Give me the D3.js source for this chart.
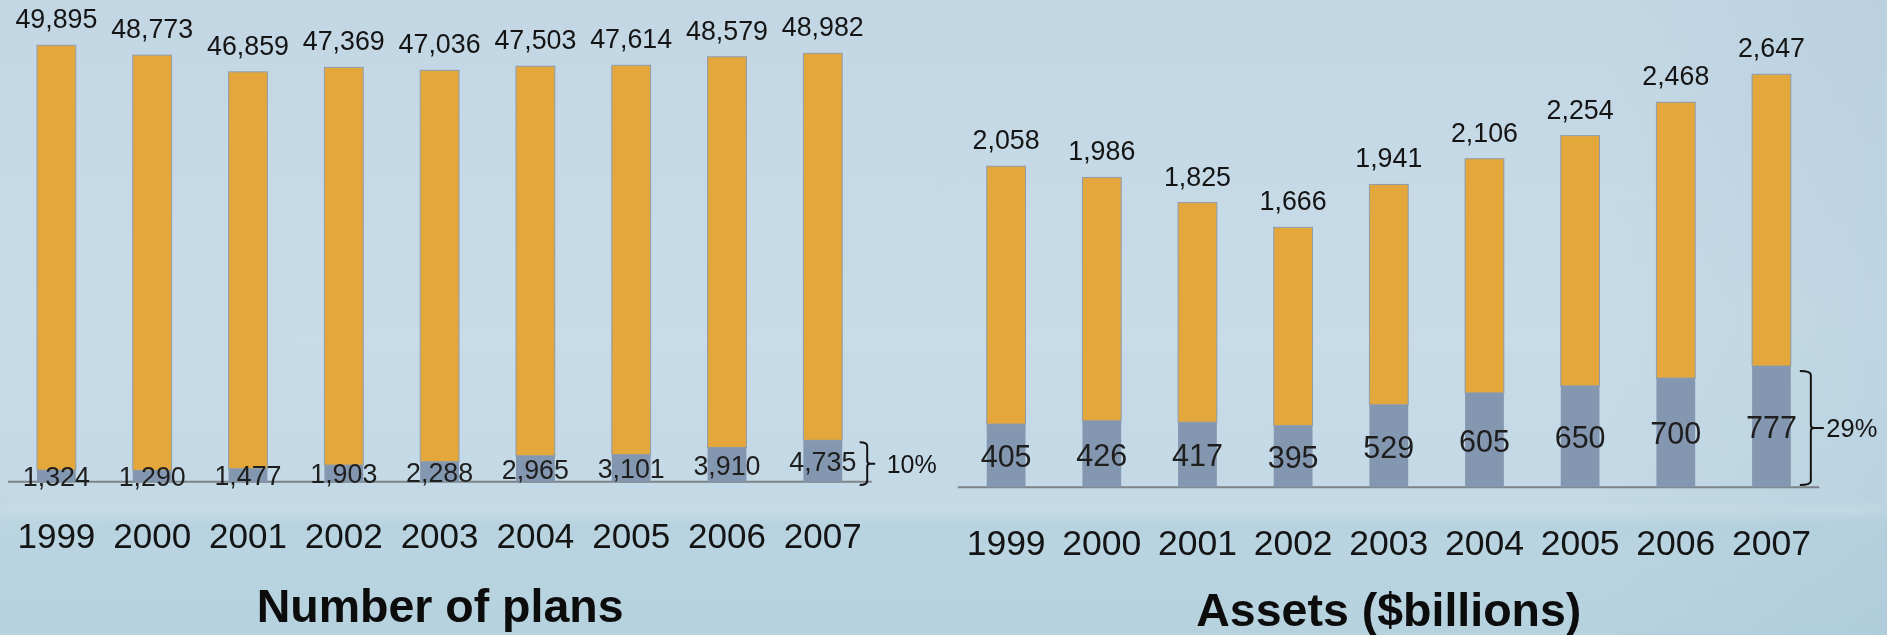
<!DOCTYPE html>
<html>
<head>
<meta charset="utf-8">
<script src="https://cdn.jsdelivr.net/npm/d3@7"></script>
<style>
  html, body { margin: 0; padding: 0; overflow: hidden; }
  svg { display: block; }
  text { font-family: "Liberation Sans", Arial, sans-serif; fill: #141414; }
</style>
</head>
<body>
<svg id="chart" width="1887" height="635"></svg>
<script>
// ---- data ----
const years = ["1999", "2000", "2001", "2002", "2003", "2004", "2005", "2006", "2007"];

// number of plans: all plans and the highlighted subset
const planTotals = [49895, 48773, 46859, 47369, 47036, 47503, 47614, 48579, 48982];
const planSubset = [1324, 1290, 1477, 1903, 2288, 2965, 3101, 3910, 4735];

// assets in $ billions: all plans and the highlighted subset
const assetTotals = [2058, 1986, 1825, 1666, 1941, 2106, 2254, 2468, 2647];
const assetSubset = [405, 426, 417, 395, 529, 605, 650, 700, 777];

const panelTitles = ["Number of plans", "Assets ($billions)"];

// ---- drawing ----
const svg = d3.select("#chart");
const W = 1887, H = 635;

// soft blue backdrop
const defs = svg.append("defs");
const bg = defs.append("linearGradient").attr("id", "bg").attr("x1", 0).attr("y1", 0).attr("x2", 0).attr("y2", 1);
[[0, "#c3d6e4"], [0.3, "#c5d9e6"], [0.5, "#c7dbe7"], [0.78, "#c3d9e5"], [0.83, "#bad5e1"], [1, "#b6d2df"]]
  .forEach(([o, c]) => bg.append("stop").attr("offset", o).attr("stop-color", c));
const side = defs.append("linearGradient").attr("id", "side").attr("x1", 0).attr("y1", 0).attr("x2", 1).attr("y2", 0);
[[0, "#ffffff", 0], [0.85, "#7fa7c0", 0], [1, "#7fa7c0", 0.12]]
  .forEach(([o, c, a]) => side.append("stop").attr("offset", o).attr("stop-color", c).attr("stop-opacity", a));
defs.append("filter").attr("id", "soft").attr("x", "-10%").attr("y", "-200%").attr("width", "120%").attr("height", "500%")
  .append("feGaussianBlur").attr("stdDeviation", "10 4");

svg.append("rect").attr("width", W).attr("height", H).attr("fill", "url(#bg)");
svg.append("rect").attr("width", W).attr("height", H).attr("fill", "url(#side)");
const streaks = svg.append("g").attr("filter", "url(#soft)");
[[0, 108, 900, 8, "#cfe0eb", 0.3], [300, 335, 1300, 10, "#d2e3ee", 0.35], [0, 505, 1887, 10, "#d0e2ec", 0.45],
 [100, 522, 1700, 12, "#b2cedc", 0.35], [950, 190, 700, 8, "#d0e1ec", 0.3]]
  .forEach(([x, y, w, h, c, a]) => streaks.append("rect").attr("x", x).attr("y", y).attr("width", w).attr("height", h)
    .attr("fill", c).attr("opacity", a));

const fmt = d3.format(",");
const pct = d3.format(".0%");

const panels = [
  { totals: planTotals, subset: planSubset, title: panelTitles[0],
    xr: [8.5, 870.7], base: 481.7, top: 45.3, lineEnd: 871.7,
    topSize: 26.8, inSize: 26.8, inShift: 10, yearSize: 35, yearBase: 548.3, titleBase: 621.7,
    brace: { dx: 25, hook: 7.5, tick: 8, gap: 11.5, size: 25, top: 2, bottom: 3.3 } },
  { totals: assetTotals, subset: assetSubset, title: panelTitles[1],
    xr: [958.3, 1819.3], base: 487.3, top: 74.3, lineEnd: 1819.3,
    topSize: 26.8, inSize: 30.5, inShift: 11.5, yearSize: 35.5, yearBase: 555, titleBase: 625.5,
    brace: { dx: 20, hook: 11, tick: 13, gap: 2.5, size: 25.5, top: 5, bottom: -2.3 } }
];

panels.forEach(p => {
  const g = svg.append("g");
  const x = d3.scaleBand().domain(years).range(p.xr).paddingInner(0.595).paddingOuter(0.2975);
  const y = d3.scaleLinear().domain([0, d3.max(p.totals)]).range([p.base, p.top]);
  const rows = years.map((yr, i) => ({ yr, total: p.totals[i], sub: p.subset[i] }));

  // baseline
  g.append("line")
    .attr("x1", p.xr[0] - 0.5).attr("x2", p.lineEnd)
    .attr("y1", y(0)).attr("y2", y(0))
    .attr("stroke", "#7d8287").attr("stroke-width", 2);

  const bars = g.selectAll(".bar").data(rows).join("g").attr("class", "bar");
  // remainder of the total (orange)
  bars.append("rect")
    .attr("x", d => x(d.yr)).attr("width", x.bandwidth())
    .attr("y", d => y(d.total)).attr("height", d => y(d.sub) - y(d.total))
    .attr("fill", "#e3a73b").attr("stroke", "#8f9cab").attr("stroke-width", 1);
  // highlighted subset (slate blue)
  bars.append("rect")
    .attr("x", d => x(d.yr)).attr("width", x.bandwidth())
    .attr("y", d => y(d.sub)).attr("height", d => y(0) - y(d.sub))
    .attr("fill", "#8497b0");

  // total labels above bars
  bars.append("text")
    .attr("x", d => x(d.yr) + x.bandwidth() / 2)
    .attr("y", d => y(d.total) - 17)
    .attr("text-anchor", "middle").attr("font-size", p.topSize)
    .text(d => fmt(d.total));

  // subset labels centred in the slate segment
  bars.append("text")
    .attr("x", d => x(d.yr) + x.bandwidth() / 2)
    .attr("y", d => (y(d.sub) + y(0)) / 2 + p.inShift)
    .attr("text-anchor", "middle").attr("font-size", p.inSize).style("fill", "#1e1e1e")
    .text(d => fmt(d.sub));

  // year labels
  g.selectAll(".year").data(years).join("text").attr("class", "year")
    .attr("x", d => x(d) + x.bandwidth() / 2).attr("y", p.yearBase)
    .attr("text-anchor", "middle").attr("font-size", p.yearSize)
    .text(d => d);

  // brace marking the latest subset share
  const last = rows[rows.length - 1];
  const b = p.brace;
  const xv = x(last.yr) + x.bandwidth() + b.dx;
  const t0 = y(last.sub) + b.top, t1 = y(0) + b.bottom, mid = (t0 + t1) / 2;
  g.append("path")
    .attr("d", `M${xv - b.hook},${t0} Q${xv},${t0} ${xv},${t0 + 4} L${xv},${mid - 3} Q${xv},${mid} ${xv + 3},${mid} L${xv + b.tick},${mid}` +
               ` M${xv + 3},${mid} Q${xv},${mid} ${xv},${mid + 3} L${xv},${t1 - 4} Q${xv},${t1} ${xv - b.hook},${t1}`)
    .attr("fill", "none").attr("stroke", "#141414").attr("stroke-width", 2);
  g.append("text")
    .attr("x", xv + b.tick + b.gap).attr("y", mid + 0.36 * b.size)
    .attr("font-size", b.size)
    .text(pct(last.sub / last.total));

  // panel title
  g.append("text")
    .attr("x", (p.xr[0] + p.lineEnd) / 2).attr("y", p.titleBase)
    .attr("text-anchor", "middle").attr("font-size", 46.5).attr("font-weight", "bold")
    .style("fill", "#0c0c0c")
    .text(p.title);
});
</script>
</body>
</html>
